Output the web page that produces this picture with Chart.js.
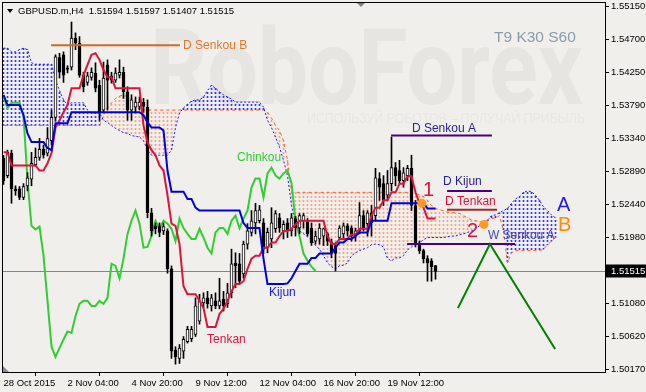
<!DOCTYPE html>
<html>
<head>
<meta charset="utf-8">
<script src="https://cdn.jsdelivr.net/npm/chart.js@4.4.1/dist/chart.umd.min.js"></script>
<style>
  html, body { margin: 0; padding: 0; background: #f0efeb; }
  canvas { display: block; }
</style>
</head>
<body>
<canvas id="chart" width="646" height="392"></canvas>
<script>
// GBPUSD.m H4, bar 0 = 28 Oct 2015, Ichimoku T9 K30 S60
var opens = [1.5307,1.5283,1.5314,1.5265,1.5265,1.5253,1.5269,1.5278,1.5298,1.5308,
  1.5319,1.5314,1.5331,1.5363,1.5445,1.5449,1.5431,1.5432,1.5472,1.5465,
  1.5421,1.5411,1.5418,1.5424,1.5407,1.5373,1.5435,1.5420,1.5414,1.5421,
  1.5425,1.5398,1.5373,1.5377,1.5378,1.5384,1.5377,1.5232,1.5214,1.5213,
  1.5207,1.5207,1.5155,1.5043,1.5032,1.5042,1.5055,1.5059,1.5065,1.5083,
  1.5108,1.5115,1.5104,1.5111,1.5104,1.5113,1.5107,1.5122,1.5163,1.5162,
  1.5148,1.5189,1.5205,1.5218,1.5221,1.5218,1.5184,1.5196,1.5210,1.5225,
  1.5207,1.5218,1.5207,1.5224,1.5211,1.5221,1.5221,1.5211,1.5193,1.5196,
  1.5200,1.5203,1.5191,1.5187,1.5198,1.5203,1.5214,1.5211,1.5200,1.5207,
  1.5228,1.5217,1.5232,1.5228,1.5279,1.5272,1.5256,1.5272,1.5294,1.5290,
  1.5276,1.5283,1.5293,1.5242,1.5189,1.5180,1.5169,1.5166,1.51594];
var highs = [1.5311,1.5318,1.5318,1.5269,1.5268,1.5272,1.5287,1.5315,1.5321,1.5334,
  1.5325,1.5349,1.5373,1.5449,1.5451,1.5453,1.5434,1.5494,1.5479,1.5474,
  1.5425,1.5425,1.5431,1.5438,1.5414,1.5439,1.5442,1.5425,1.5431,1.5442,
  1.5432,1.5405,1.5394,1.5391,1.5391,1.5389,1.5387,1.5238,1.5218,1.5218,
  1.5218,1.5210,1.5159,1.5048,1.5051,1.5062,1.5076,1.5076,1.5115,1.5120,
  1.5122,1.5124,1.5120,1.5122,1.5142,1.5124,1.5135,1.5182,1.5177,1.5176,
  1.5193,1.5217,1.5235,1.5245,1.5242,1.5224,1.5211,1.5239,1.5235,1.5231,
  1.5221,1.5224,1.5231,1.5227,1.5231,1.5231,1.5224,1.5218,1.5207,1.5217,
  1.5211,1.5205,1.5196,1.5191,1.5214,1.5218,1.5217,1.5214,1.5211,1.5246,
  1.5235,1.5235,1.5242,1.5293,1.5287,1.5283,1.5290,1.5336,1.5301,1.5304,
  1.5294,1.5297,1.5311,1.5249,1.5193,1.5182,1.5173,1.5169,1.51597];
var lows = [1.5271,1.5280,1.5245,1.5256,1.5250,1.5250,1.5262,1.5269,1.5296,1.5304,
  1.5307,1.5310,1.5325,1.5359,1.5417,1.5411,1.5424,1.5428,1.5456,1.5418,
  1.5398,1.5407,1.5414,1.5398,1.5359,1.5369,1.5373,1.5410,1.5411,1.5417,
  1.5389,1.5359,1.5359,1.5369,1.5373,1.5370,1.5225,1.5200,1.5203,1.5199,
  1.5202,1.5149,1.5032,1.5024,1.5025,1.5032,1.5053,1.5055,1.5062,1.5079,
  1.5101,1.5101,1.5097,1.5100,1.5100,1.5097,1.5102,1.5115,1.5129,1.5135,
  1.5142,1.5182,1.5200,1.5203,1.5218,1.5176,1.5177,1.5184,1.5205,1.5205,
  1.5196,1.5198,1.5200,1.5200,1.5203,1.5211,1.5200,1.5187,1.5189,1.5189,
  1.5187,1.5187,1.5170,1.5152,1.5196,1.5196,1.5200,1.5193,1.5193,1.5203,
  1.5207,1.5200,1.5200,1.5221,1.5249,1.5242,1.5249,1.5262,1.5269,1.5272,
  1.5267,1.5276,1.5235,1.5185,1.5176,1.5163,1.5138,1.5138,1.51407];
var closes = [1.5276,1.5315,1.5265,1.5262,1.5253,1.5268,1.5280,1.5300,1.5308,1.5319,
  1.5311,1.5334,1.5363,1.5446,1.5425,1.5421,1.5429,1.5472,1.5465,1.5421,
  1.5405,1.5420,1.5425,1.5403,1.5370,1.5417,1.5414,1.5414,1.5424,1.5425,
  1.5398,1.5373,1.5387,1.5384,1.5384,1.5378,1.5232,1.5207,1.5210,1.5205,
  1.5213,1.5155,1.5042,1.5034,1.5046,1.5058,1.5072,1.5072,1.5104,1.5111,
  1.5115,1.5107,1.5115,1.5104,1.5111,1.5104,1.5122,1.5162,1.5159,1.5138,
  1.5189,1.5207,1.5221,1.5235,1.5236,1.5182,1.5205,1.5218,1.5231,1.5211,
  1.5216,1.5207,1.5225,1.5211,1.5228,1.5228,1.5203,1.5191,1.5200,1.5211,
  1.5210,1.5193,1.5177,1.5176,1.5211,1.5214,1.5207,1.5200,1.5207,1.5228,
  1.5211,1.5232,1.5218,1.5280,1.5267,1.5249,1.5272,1.5294,1.5283,1.5276,
  1.5287,1.5293,1.5242,1.5189,1.5180,1.5169,1.5163,1.5158,1.51515];

var tenkan = [1.5315,1.5315,1.5297,1.5297,1.5297,1.5297,1.5297,1.5297,1.5297,1.5290,
  1.5290,1.5300,1.5314,1.5349,1.5359,1.5370,1.5380,1.5403,1.5403,1.5403,
  1.5421,1.5435,1.5449,1.5451,1.5442,1.5428,1.5418,1.5418,1.5403,1.5403,
  1.5403,1.5403,1.5403,1.5403,1.5403,1.5352,1.5329,1.5318,1.5311,1.5297,
  1.5290,1.5256,1.5217,1.5214,1.5189,1.5131,1.5120,1.5120,1.5120,1.5111,
  1.5101,1.5075,1.5075,1.5075,1.5093,1.5100,1.5111,1.5124,1.5134,1.5134,
  1.5138,1.5155,1.5169,1.5173,1.5173,1.5184,1.5184,1.5191,1.5191,1.5200,
  1.5207,1.5207,1.5210,1.5216,1.5221,1.5221,1.5221,1.5221,1.5221,1.5221,
  1.5221,1.5200,1.5189,1.5189,1.5196,1.5196,1.5196,1.5202,1.5202,1.5210,
  1.5210,1.5210,1.5228,1.5239,1.5239,1.5249,1.5249,1.5260,1.5260,1.5272,
  1.5272,1.5282,1.5282,1.5260,1.5245,1.5239,1.5224,1.5224,1.5224];
var kijun = [1.5394,1.5380,1.5380,1.5380,1.5380,1.5366,1.5341,1.5329,1.5329,1.5329,
  1.5329,1.5321,1.5318,1.5355,1.5355,1.5355,1.5355,1.5370,1.5370,1.5370,
  1.5370,1.5370,1.5370,1.5370,1.5370,1.5370,1.5370,1.5370,1.5370,1.5370,
  1.5370,1.5370,1.5370,1.5370,1.5370,1.5366,1.5356,1.5349,1.5349,1.5349,
  1.5345,1.5290,1.5261,1.5261,1.5261,1.5261,1.5251,1.5251,1.5239,1.5235,
  1.5235,1.5235,1.5235,1.5235,1.5235,1.5235,1.5235,1.5235,1.5235,1.5235,
  1.5218,1.5211,1.5211,1.5211,1.5211,1.5169,1.5134,1.5134,1.5134,1.5134,
  1.5134,1.5135,1.5142,1.5152,1.5162,1.5162,1.5162,1.5170,1.5170,1.5176,
  1.5176,1.5176,1.5176,1.5184,1.5191,1.5191,1.5196,1.5196,1.5200,1.5205,
  1.5205,1.5205,1.5221,1.5221,1.5221,1.5221,1.5221,1.5245,1.5245,1.5245,
  1.5245,1.5245,1.5245,1.5245,1.5245,1.5245,1.5238,1.5238,1.5238];
// chinkou is plotted 30 bars back
var chinkou = [1.5391,1.5376,1.5383,1.5383,1.5383,1.5366,1.5276,1.5214,1.5209,1.5213,
  1.5173,1.5111,1.5048,1.5034,1.5046,1.5058,1.5069,1.5067,1.5090,1.5107,
  1.5111,1.5111,1.5104,1.5104,1.5111,1.5107,1.5115,1.5162,1.5159,1.5142,
  1.5169,1.5203,1.5221,1.5235,1.5217,1.5184,1.5185,1.5200,1.5221,1.5210,
  1.5221,1.5217,1.5210,1.5193,1.5224,1.5211,1.5203,1.5196,1.5196,1.5210,
  1.5198,1.5184,1.5176,1.5205,1.5211,1.5211,1.5203,1.5221,1.5228,1.5211,
  1.5224,1.5235,1.5267,1.5279,1.5279,1.5253,1.5286,1.5294,1.5283,1.5279,
  1.5286,1.5290,1.5273,1.5221,1.5200,1.5176,1.5166,1.5158,1.5152];
// senkou spans run 30 bars ahead of the last candle
var senkouA = [1.5458,1.5458,1.5453,1.5453,1.5456,1.5458,1.5456,1.5438,1.5436,1.5436,
  1.5436,1.5436,1.5436,1.5414,1.5400,1.5387,1.5380,1.5383,1.5383,1.5383,
  1.5383,1.5373,1.5369,1.5369,1.5369,1.5359,1.5356,1.5352,1.5348,1.5345,
  1.5342,1.5341,1.5338,1.5337,1.5336,1.5331,1.5318,1.5311,1.5311,1.5311,
  1.5311,1.5311,1.5318,1.5349,1.5369,1.5376,1.5381,1.5385,1.5387,1.5387,
  1.5391,1.5400,1.5407,1.5403,1.5398,1.5394,1.5391,1.5388,1.5384,1.5384,
  1.5384,1.5384,1.5384,1.5384,1.5384,1.5377,1.5359,1.5349,1.5336,1.5322,
  1.5304,1.5283,1.5242,1.5218,1.5207,1.5203,1.5199,1.5195,1.5187,1.5182,
  1.5173,1.5163,1.5158,1.5155,1.5159,1.5160,1.5163,1.5173,1.5177,1.5180,
  1.5182,1.5184,1.5188,1.5189,1.5188,1.5185,1.5169,1.5166,1.5170,1.5170,
  1.5173,1.5181,1.5185,1.5189,1.5191,1.5195,1.5198,1.5198,1.5198,1.5198,
  1.5198,1.5199,1.5200,1.5200,1.5202,1.5203,1.5205,1.5207,1.5210,1.5214,
  1.5218,1.5222,1.5228,1.5229,1.5232,1.5235,1.5238,1.5245,1.5251,1.5254,
  1.5260,1.5262,1.5261,1.5256,1.5249,1.5240,1.5235,1.5229,1.5225];
var senkouB = [1.5352,1.5352,1.5352,1.5352,1.5352,1.5352,1.5352,1.5352,1.5352,1.5352,
  1.5352,1.5352,1.5352,1.5352,1.5352,1.5352,1.5352,1.5352,1.5352,1.5352,
  1.5352,1.5352,1.5352,1.5352,1.5352,1.5366,1.5376,1.5383,1.5389,1.5392,
  1.5394,1.5391,1.5387,1.5383,1.5373,1.5373,1.5373,1.5373,1.5373,1.5373,
  1.5373,1.5373,1.5373,1.5373,1.5373,1.5373,1.5373,1.5373,1.5373,1.5373,
  1.5373,1.5373,1.5373,1.5373,1.5373,1.5373,1.5373,1.5373,1.5373,1.5373,
  1.5373,1.5373,1.5373,1.5373,1.5373,1.5373,1.5370,1.5362,1.5352,1.5345,
  1.5331,1.5304,1.5260,1.5260,1.5260,1.5260,1.5260,1.5260,1.5260,1.5260,
  1.5260,1.5260,1.5260,1.5260,1.5260,1.5260,1.5260,1.5260,1.5260,1.5260,
  1.5260,1.5260,1.5260,1.5260,1.5260,1.5260,1.5260,1.5260,1.5260,1.5260,
  1.5260,1.5260,1.5260,1.5258,1.5257,1.5254,1.5249,1.5242,1.5238,1.5236,
  1.5235,1.5233,1.5232,1.5232,1.5231,1.5228,1.5225,1.5222,1.5221,1.5220,
  1.5220,1.5221,1.5224,1.5225,1.5228,1.5207,1.5163,1.5177,1.5180,1.5180,
  1.5180,1.5180,1.5180,1.5180,1.5180,1.5182,1.5188,1.5193,1.5198];

var tickBars = [0, 16, 32, 48, 64, 80, 96];
var tickLabels = ['28 Oct 2015', '2 Nov 04:00', '4 Nov 20:00', '9 Nov 12:00', '12 Nov 04:00', '16 Nov 20:00', '19 Nov 12:00'];
var priceTicks = [1.5515, 1.547, 1.5425, 1.5379, 1.5334, 1.5289, 1.5244, 1.5198, 1.5108, 1.5062, 1.5017];

// drawn levels
var levelPrices = [1.5462, 1.5338, 1.5262, 1.5236, 1.5189];
var levelStart = [11.9, 96.9, 110.9, 110.9, 100.9];
var levelEnd = [44.1, 122.1, 122.1, 123.4, 127.9];
var levelColors = ['#d2691e', '#4b0082', '#4b0082', '#a52a2a', '#4b0082'];
var waveBars = [113.6, 121.6, 137.9];
var wavePrices = [1.5101, 1.5189, 1.5045];
var dotBars = [104.6, 120.1];
var dotPrices = [1.5245, 1.5216];

var noteTexts = ['D Senkou B', 'D Senkou A', 'D Kijun', 'D Tenkan', 'W Senkou A', 'Chinkou', 'Kijun', 'Tenkan', '1', '2', 'A', 'B'];
var noteBars = [44.9, 102.1, 109.9, 110.4, 121.1, 58.4, 66.4, 50.9, 104.9, 115.9, 138.4, 138.6];
var notePrices = [1.5462, 1.5348, 1.5275, 1.5247, 1.5200, 1.5308, 1.5122, 1.5058, 1.5262, 1.5206, 1.5242, 1.5214];
var noteColors = ['#e2772f', '#2a2196', '#2a2196', '#dc143c', '#4848b4', '#32cd32', '#1a1ae6', '#dc143c', '#dc143c', '#dc143c', '#1e1ee6', '#ff8c00'];
var noteSizes = [12, 12, 12, 12, 12, 12, 12, 12, 20, 20, 20, 20];

var canvas = document.getElementById('chart');
var ctx0 = canvas.getContext('2d');
// 1px wide dotted column used for the cloud histogram
function hatch(color) {
    var c = document.createElement('canvas');
    c.width = 1; c.height = 4;
    var g = c.getContext('2d');
    g.fillStyle = color;
    g.fillRect(0, 0, 1, 2);
    return ctx0.createPattern(c, 'repeat');
}
var blueHatch = hatch('rgb(52,52,255)');
var orangeHatch = hatch('rgb(249,162,128)');

function pts(arr) { return arr.map(function (v, i) { return { x: i, y: v }; }); }

var wickData = lows.map(function (l, i) { return { x: i, y: [l, highs[i]] }; });
var bodyData = opens.map(function (o, i) { return { x: i, y: [o, closes[i]] }; });
var bodyColors = opens.map(function (o, i) { return closes[i] >= o ? '#ffffff' : '#000000'; });
var cloudData = senkouA.map(function (a, i) { return { x: i, y: [a, senkouB[i]] }; });
var cloudColors = senkouA.map(function (a, i) { return a >= senkouB[i] ? blueHatch : orangeHatch; });

var datasets = [
    { type: 'bar', data: cloudData, backgroundColor: cloudColors, barThickness: 1, grouped: false, order: 10 },
    { type: 'line', data: pts(senkouB), borderColor: '#ff5a1f', borderWidth: 1, borderDash: [3, 3], pointRadius: 0, fill: false, order: 9 },
    { type: 'line', data: pts(senkouA), borderColor: '#1a1aff', borderWidth: 1, borderDash: [2, 2], pointRadius: 0, fill: false, order: 8 },
    { type: 'line', data: pts(chinkou), borderColor: '#32cd32', borderWidth: 2, pointRadius: 0, fill: false, order: 7 },
    { type: 'bar', data: wickData, backgroundColor: '#000000', barThickness: 1, grouped: false, minBarLength: 1, order: 6 },
    { type: 'bar', data: bodyData, backgroundColor: bodyColors, borderColor: '#000000', borderWidth: 1, borderSkipped: false,
      barThickness: 3, grouped: false, minBarLength: 1, order: 5 },
    { type: 'line', data: pts(tenkan), borderColor: '#dc143c', borderWidth: 2, pointRadius: 0, fill: false, order: 4 },
    { type: 'line', data: pts(kijun), borderColor: '#0000dd', borderWidth: 2, pointRadius: 0, fill: false, order: 3 }
];
levelPrices.forEach(function (p, k) {
    datasets.push({ type: 'line', data: [{ x: levelStart[k], y: p }, { x: levelEnd[k], y: p }],
        borderColor: levelColors[k], borderWidth: 2, pointRadius: 0, fill: false, order: 2 });
});
datasets.push({ type: 'line', data: waveBars.map(function (b, k) { return { x: b, y: wavePrices[k] }; }),
    borderColor: '#008000', borderWidth: 2, pointRadius: 0, fill: false, order: 1 });
datasets.push({ type: 'line', data: dotBars.map(function (b, k) { return { x: b, y: dotPrices[k] }; }),
    showLine: false, pointRadius: 4.5, pointBackgroundColor: '#ff9a1a', pointBorderWidth: 0, order: 0 });

var decor = {
    id: 'decor',
    beforeDatasetsDraw: function (chart) {
        var c = chart.ctx, a = chart.chartArea;
        c.save();
        c.beginPath(); c.rect(a.left, a.top, a.right - a.left, a.bottom - a.top); c.clip();
        // watermark
        c.fillStyle = '#e6e5e1';
        c.font = 'bold 106px Roboto';
        var w = c.measureText('RoboForex').width;
        c.save(); c.translate(150, 104); c.scale(433 / w, 1); c.fillText('RoboForex', 0, 0); c.restore();
        c.fillStyle = '#e8e7e3';
        c.font = '14px "Liberation Sans"';
        var w2 = c.measureText('ИСПОЛЬЗУЙ РОБОТОВ – ПОЛУЧАЙ ПРИБЫЛЬ').width;
        c.save(); c.translate(307, 123); c.scale(278 / w2, 1); c.fillText('ИСПОЛЬЗУЙ РОБОТОВ – ПОЛУЧАЙ ПРИБЫЛЬ', 0, 0); c.restore();
        c.fillStyle = '#8a9bb0';
        c.font = '15.5px "Liberation Sans"';
        c.fillText('T9 K30 S60', 494, 42);
        // bid line
        var yb = Math.round(chart.scales.y.getPixelForValue(closes[closes.length - 1])) + 0.5;
        c.strokeStyle = '#778899'; c.lineWidth = 1;
        c.beginPath(); c.moveTo(a.left, yb); c.lineTo(a.right, yb); c.stroke();
        c.restore();
    },
    afterDatasetsDraw: function (chart) {
        var c = chart.ctx, xs = chart.scales.x, ys = chart.scales.y;
        c.save();
        c.textBaseline = 'middle'; c.textAlign = 'left';
        noteTexts.forEach(function (t, k) {
            c.font = noteSizes[k] + 'px "Liberation Sans"';
            c.fillStyle = noteColors[k];
            c.fillText(t, xs.getPixelForValue(noteBars[k]), ys.getPixelForValue(notePrices[k]));
        });
        c.restore();
    },
    afterDraw: function (chart) {
        var c = chart.ctx, a = chart.chartArea;
        c.save();
        c.strokeStyle = '#000'; c.lineWidth = 1;
        c.strokeRect(a.left - 0.5, a.top - 0.5, a.right - a.left + 1, a.bottom - a.top + 1);
        // title
        c.fillStyle = '#000';
        c.beginPath(); c.moveTo(7, 9); c.lineTo(13, 9); c.lineTo(10, 13); c.closePath(); c.fill();
        c.font = '9.5px "Liberation Sans"';
        c.textBaseline = 'alphabetic';
        c.fillText('GBPUSD.m,H4  1.51594 1.51597 1.51407 1.51515', 18, 14);
        // shift markers
        c.fillStyle = '#808080';
        c.beginPath(); c.moveTo(357, 3); c.lineTo(365, 3); c.lineTo(361, 7); c.closePath(); c.fill();
        c.fillStyle = '#8a8a9a';
        c.beginPath(); c.moveTo(3, 366); c.lineTo(9, 372); c.lineTo(3, 372); c.closePath(); c.fill();
        // price label
        var yb = Math.round(chart.scales.y.getPixelForValue(closes[closes.length - 1])) + 0.5;
        c.fillStyle = '#000';
        c.fillRect(a.right + 1, yb - 7, 40, 13);
        c.fillStyle = '#fff';
        c.textBaseline = 'middle';
        c.fillText(closes[closes.length - 1].toFixed(5), a.right + 6, yb);
        c.restore();
    }
};

Chart.defaults.font.family = '"Liberation Sans", Arial, sans-serif';

new Chart(canvas, {
    type: 'line',
    data: { datasets: datasets },
    options: {
        responsive: false,
        animation: false,
        devicePixelRatio: 1,
        events: [],
        layout: { padding: { left: 3, top: 3, right: 0, bottom: 0 }, autoPadding: false },
        plugins: { legend: { display: false }, tooltip: { enabled: false } },
        scales: {
            x: {
                type: 'linear', min: -0.125, max: 150.375, offset: false, bounds: 'data',
                afterBuildTicks: function (s) { s.ticks = tickBars.map(function (v) { return { value: v }; }); },
                afterFit: function (s) { s.height = 20; s.paddingLeft = 0; s.paddingRight = 0; },
                grid: { drawOnChartArea: false, drawTicks: true, tickLength: 4, color: '#000' },
                border: { display: false },
                ticks: { autoSkip: false, maxRotation: 0, minRotation: 0, align: 'start', padding: 2, color: '#000',
                    font: { size: 9.5 }, callback: function (v, i) { return tickLabels[i]; } }
            },
            y: {
                type: 'linear', position: 'right', min: 1.501328, max: 1.552008, bounds: 'data',
                afterBuildTicks: function (s) { s.ticks = priceTicks.map(function (v) { return { value: v }; }); },
                afterFit: function (s) { s.width = 41; s.paddingTop = 0; s.paddingBottom = 0; },
                grid: { drawOnChartArea: false, drawTicks: true, tickLength: 4, color: '#000' },
                border: { display: false },
                ticks: { padding: 2, color: '#000', font: { size: 9.5 }, callback: function (v) { return v.toFixed(5); } }
            }
        }
    },
    plugins: [decor]
});
</script>
</body>
</html>
